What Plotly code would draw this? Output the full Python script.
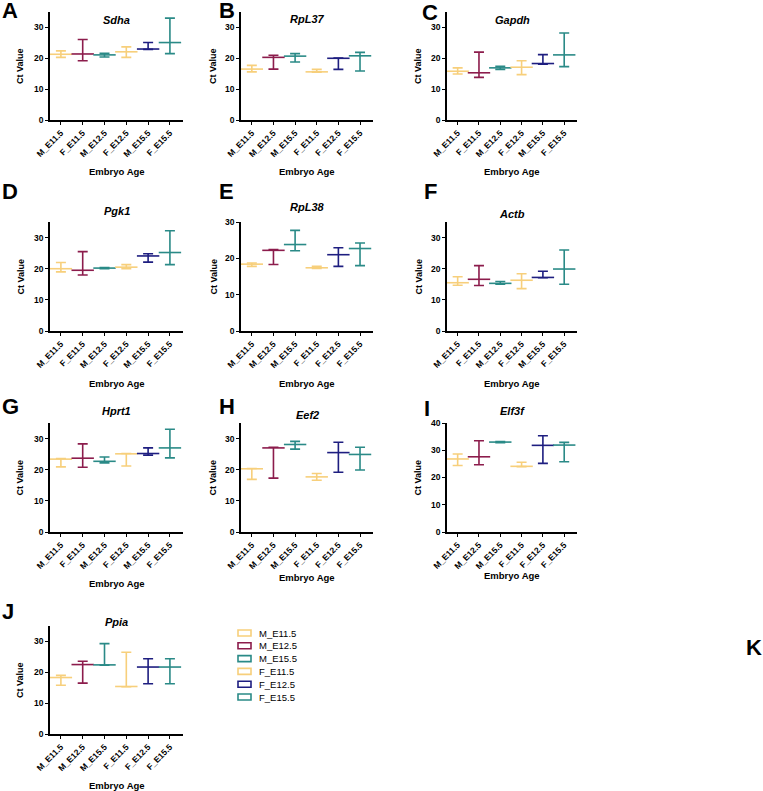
import plotly.graph_objects as go

W, H = 763, 791
FONT = "Arial, Liberation Sans, sans-serif"

# category orders used by the panels
order_sex = ["M_E11.5", "F_E11.5", "M_E12.5", "F_E12.5", "M_E15.5", "F_E15.5"]
order_age = ["M_E11.5", "M_E12.5", "M_E15.5", "F_E11.5", "F_E12.5", "F_E15.5"]

# colour by position in each panel (same as legend order)
bar_colors = ["#F7CF7B", "#8C1C4C", "#2A8A87", "#F7CF7B", "#1E1E80", "#2A8A87"]
legend_names = ["M_E11.5", "M_E12.5", "M_E15.5", "F_E11.5", "F_E12.5", "F_E15.5"]

genes = ["Sdha", "RpL37", "Gapdh", "Pgk1", "RpL38", "Actb", "Hprt1", "Eef2", "Elf3f", "Ppia"]
letters = ["A", "B", "C", "D", "E", "F", "G", "H", "I", "J"]
gene_orders = [order_sex, order_age, order_sex, order_sex, order_age,
               order_sex, order_sex, order_age, order_age, order_age]
y_max = [35, 35, 35, 35, 30, 35, 35, 35, 40, 35]

# min / mean / max Ct values, in each panel's category order
sdha_low = [20.3, 19.2, 20.4, 20.3, 22.9, 21.5]
sdha_mean = [21.3, 21.4, 21.1, 22.1, 23.0, 25.1]
sdha_high = [22.4, 26.1, 21.6, 23.7, 25.1, 33.0]

rpl37_low = [15.6, 16.5, 18.8, 15.5, 16.4, 15.9]
rpl37_mean = [16.5, 20.3, 20.7, 15.6, 20.0, 20.8]
rpl37_high = [17.7, 21.0, 21.5, 16.4, 20.1, 21.9]

gapdh_low = [14.9, 13.8, 16.4, 14.7, 18.1, 17.3]
gapdh_mean = [15.8, 15.3, 16.9, 17.1, 18.3, 21.1]
gapdh_high = [16.9, 22.0, 17.4, 19.2, 21.2, 28.2]

pgk1_low = [19.0, 18.0, 20.0, 20.0, 22.1, 21.3]
pgk1_mean = [20.0, 19.5, 20.2, 20.5, 24.1, 25.2]
pgk1_high = [22.0, 25.5, 20.4, 21.3, 24.8, 32.2]

rpl38_low = [17.8, 18.3, 22.1, 17.2, 17.8, 18.0]
rpl38_mean = [18.4, 22.2, 23.8, 17.4, 21.0, 22.7]
rpl38_high = [18.7, 22.4, 27.7, 17.8, 22.9, 24.2]

actb_low = [14.7, 14.6, 15.0, 13.6, 17.1, 15.0]
actb_mean = [15.5, 16.6, 15.3, 16.3, 17.2, 19.9]
actb_high = [17.4, 21.0, 15.9, 18.4, 19.2, 26.0]

hprt1_low = [20.9, 20.8, 22.2, 21.2, 24.7, 23.8]
hprt1_mean = [23.4, 23.7, 22.7, 25.1, 25.2, 27.0]
hprt1_high = [23.6, 28.3, 24.1, 25.2, 27.0, 33.0]

eef2_low = [16.9, 17.3, 26.6, 16.6, 19.2, 19.9]
eef2_mean = [20.3, 27.0, 28.1, 17.7, 25.5, 24.9]
eef2_high = [20.4, 27.2, 29.1, 18.8, 28.8, 27.2]

elf3f_low = [24.4, 24.7, 32.8, 24.0, 25.2, 25.8]
elf3f_mean = [26.8, 27.6, 33.0, 24.1, 31.8, 31.9]
elf3f_high = [28.6, 33.5, 33.2, 25.6, 35.3, 32.9]

ppia_low = [15.8, 16.5, 22.3, 15.3, 16.3, 16.3]
ppia_mean = [18.3, 22.5, 22.4, 15.4, 21.7, 21.7]
ppia_high = [19.0, 23.6, 29.3, 26.5, 24.4, 24.4]

lows = [sdha_low, rpl37_low, gapdh_low, pgk1_low, rpl38_low,
        actb_low, hprt1_low, eef2_low, elf3f_low, ppia_low]
means = [sdha_mean, rpl37_mean, gapdh_mean, pgk1_mean, rpl38_mean,
         actb_mean, hprt1_mean, eef2_mean, elf3f_mean, ppia_mean]
highs = [sdha_high, rpl37_high, gapdh_high, pgk1_high, rpl38_high,
         actb_high, hprt1_high, eef2_high, elf3f_high, ppia_high]

# panel geometry in pixels (left, right) / (top, bottom)
col_px = [(50, 183), (241, 373), (447, 577)]
row_px = [(12, 120), (222, 331), (423, 532), (626, 734)]
letter_pos = [(0, 11), (217, 11), (420, 12), (0, 191), (217, 191), (422, 191),
              (0, 407), (217, 407), (422, 409), (0, 611)]
title_y = [20, 19, 20, 211, 207, 214, 411, 415, 411, 622]
xtitle_y = [172, 172, 172, 383, 383, 383, 583, 577, 575, 785]
ytitle_x = [20, 213, 418]


def fx(p):
    return p / W


def fy(p):
    return 1 - p / H


fig = go.Figure()
annotations = []
shapes = []
layout_axes = {}

for i, gene in enumerate(genes):
    r, c = divmod(i, 3)
    n = i + 1
    xa = "x" if n == 1 else f"x{n}"
    ya = "y" if n == 1 else f"y{n}"
    x0, x1 = col_px[c]
    y0, y1 = row_px[r]
    cats = gene_orders[i]

    for j, cat in enumerate(cats):
        m = means[i][j]
        fig.add_trace(go.Scatter(
            x=[cat], y=[m], mode="markers", xaxis=xa, yaxis=ya,
            showlegend=False, hoverinfo="skip",
            marker=dict(symbol="line-ew", size=16,
                        line=dict(color=bar_colors[j], width=1.6)),
            error_y=dict(type="data", symmetric=False,
                         array=[highs[i][j] - m], arrayminus=[m - lows[i][j]],
                         color=bar_colors[j], thickness=1.6, width=5),
        ))

    key = "" if n == 1 else str(n)
    layout_axes["xaxis" + key] = dict(
        domain=[fx(x0), fx(x1)], anchor=ya, type="category",
        categoryorder="array", categoryarray=cats, range=[-0.5, 5.6],
        showline=True, linecolor="black", linewidth=1.5, mirror=False,
        ticks="outside", ticklen=3, tickwidth=1.3, tickcolor="black",
        tickangle=-45, showgrid=False, zeroline=False, automargin=False,
        tickfont=dict(family=FONT, size=8.5, color="black", weight="bold"),
    )
    ticks = list(range(0, y_max[i] + 1, 10))
    layout_axes["yaxis" + key] = dict(
        domain=[fy(y1), fy(y0)], anchor=xa, range=[0, y_max[i]],
        tickvals=ticks, showline=True, linecolor="black", linewidth=1.5,
        ticks="outside", ticklen=3, tickwidth=1.3, tickcolor="black",
        showgrid=False, zeroline=False, automargin=False,
        tickfont=dict(family=FONT, size=8.5, color="black", weight="bold"),
    )

    mid = fx((x0 + x1) / 2)
    annotations.append(dict(
        text=f"<b><i>{gene}</i></b>", x=mid, y=fy(title_y[i]),
        xref="paper", yref="paper", showarrow=False,
        xanchor="center", yanchor="middle",
        font=dict(family=FONT, size=11, color="black")))
    annotations.append(dict(
        text="<b>Embryo Age</b>", x=mid, y=fy(xtitle_y[i]),
        xref="paper", yref="paper", showarrow=False,
        xanchor="center", yanchor="middle",
        font=dict(family=FONT, size=9.5, color="black")))
    annotations.append(dict(
        text="<b>Ct Value</b>", x=fx(ytitle_x[c]), y=fy((y0 + y1) / 2),
        xref="paper", yref="paper", showarrow=False, textangle=-90,
        xanchor="center", yanchor="middle",
        font=dict(family=FONT, size=9, color="black")))
    lx, ly = letter_pos[i]
    annotations.append(dict(
        text=f"<b>{letters[i]}</b>", x=fx(lx), y=fy(ly),
        xref="paper", yref="paper", showarrow=False,
        xanchor="left", yanchor="middle",
        font=dict(family=FONT, size=22, color="black")))

annotations.append(dict(
    text="<b>K</b>", x=fx(744), y=fy(647), xref="paper", yref="paper",
    showarrow=False, xanchor="left", yanchor="middle",
    font=dict(family=FONT, size=22, color="black")))

# legend drawn by hand: outlined boxes with labels
for k, name in enumerate(legend_names):
    cy = 633 + k * 12.8
    shapes.append(dict(
        type="rect", xref="paper", yref="paper",
        x0=fx(238), x1=fx(251), y0=fy(cy - 3), y1=fy(cy + 3),
        line=dict(color=bar_colors[k], width=1.6), fillcolor="white"))
    annotations.append(dict(
        text=name, x=fx(257), y=fy(cy), xref="paper", yref="paper",
        showarrow=False, xanchor="left", yanchor="middle",
        font=dict(family=FONT, size=9.5, color="black")))

fig.update_layout(
    template="none",
    width=W, height=H, autosize=False,
    margin=dict(l=0, r=0, t=0, b=0),
    paper_bgcolor="white", plot_bgcolor="white",
    showlegend=False, annotations=annotations, shapes=shapes,
    **layout_axes,
)

# drop the page's default body margin so the figure sits at the window origin
fig.write_html("out.html", config={"displayModeBar": False},
               post_script="document.body.style.margin='0';")
